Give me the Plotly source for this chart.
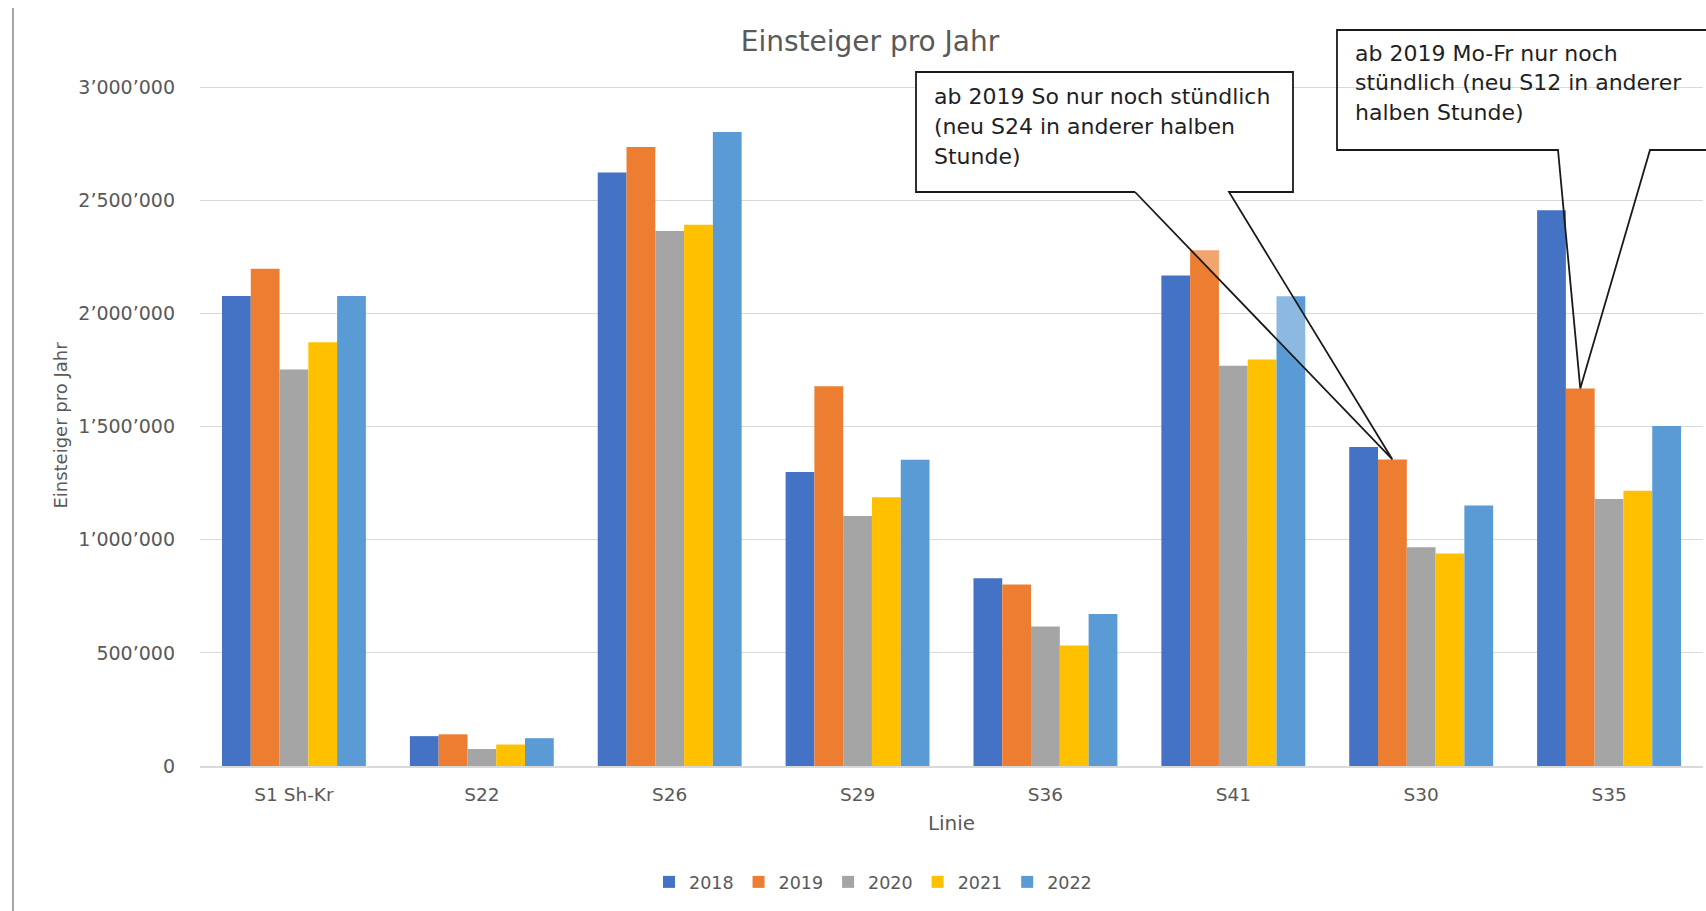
import plotly.graph_objects as go

# ---------------- data ----------------
categories = ["S1 Sh-Kr", "S22", "S26", "S29", "S36", "S41", "S30", "S35"]
years = ["2018", "2019", "2020", "2021", "2022"]
v2018 = [2077000, 132000, 2623000, 1299000, 830000, 2168000, 1410000, 2456000]
v2019 = [2198000, 140000, 2736000, 1678000, 802000, 2280000, 1355000, 1669000]
v2020 = [1753000, 75000, 2365000, 1105000, 617000, 1769000, 967000, 1180000]
v2021 = [1873000, 95000, 2392000, 1188000, 533000, 1797000, 939000, 1217000]
v2022 = [2077000, 123000, 2802000, 1354000, 672000, 2076000, 1151000, 1503000]
colors = ["#4472C4", "#ED7D31", "#A5A5A5", "#FFC000", "#5B9BD5"]

y_tickvals = [0, 500000, 1000000, 1500000, 2000000, 2500000, 3000000]
y_ticktext = ["0", "500\u2019000", "1\u2019000\u2019000", "1\u2019500\u2019000",
              "2\u2019000\u2019000", "2\u2019500\u2019000", "3\u2019000\u2019000"]

title_text = "Einsteiger pro Jahr"
x_title = "Linie"
y_title = "Einsteiger pro Jahr"

callout1_lines = ["ab 2019 So nur noch stündlich", "(neu S24 in anderer halben", "Stunde)"]
callout2_lines = ["ab 2019 Mo-Fr nur noch", "stündlich (neu S12 in anderer", "halben Stunde)"]
callout1_target = ("S30", "2019")
callout2_target = ("S35", "2019")

# ---------------- layout geometry ----------------
W, H = 1706, 911
ML, MR, MT, MB = 200, 3, 85, 145
PW, PH = W - ML - MR, H - MT - MB
BARGAP = 0.234
YMAX = 3010000
FONT = "DejaVu Sans"
GREY = "#595959"


def px_x(px):
    return (px - ML) / PW


def px_y(py):
    return (H - MB - py) / PH


series = [v2018, v2019, v2020, v2021, v2022]
fig = go.Figure()
for yr, vals, col in zip(years, series, colors):
    fig.add_trace(go.Bar(name=yr, x=categories, y=vals, marker=dict(color=col, line=dict(width=0))))


def bar_tip(cat, yr):
    ci = categories.index(cat)
    yi = years.index(yr)
    bw = (1 - BARGAP) / len(years)
    xc = ci + (yi - (len(years) - 1) / 2) * bw
    val = series[yi][ci]
    return (xc + 0.5) / len(categories), val / YMAX


shapes = []
# left border line of the chart area
shapes.append(dict(type="line", xref="paper", yref="paper",
                   x0=px_x(13), x1=px_x(13), y0=px_y(8), y1=px_y(911),
                   line=dict(color="#a6a6a6", width=2)))

# callout 1 (white box, semi-transparent wedge)
tx, ty = bar_tip(*callout1_target)
bl, br, bt, bb = px_x(916), px_x(1293), px_y(72), px_y(192)
wl, wr = px_x(1135), px_x(1229)
shapes.append(dict(type="rect", xref="x domain", yref="y domain", x0=bl, x1=br, y0=bb, y1=bt,
                   fillcolor="white", line=dict(width=0), layer="above"))
shapes.append(dict(type="path", xref="x domain", yref="y domain",
                   path=f"M{wl},{bb} L{tx},{ty} L{wr},{bb} Z",
                   fillcolor="rgba(255,255,255,0.3)", line=dict(width=0), layer="above"))
shapes.append(dict(type="path", xref="x domain", yref="y domain",
                   path=(f"M{wl},{bb} L{bl},{bb} L{bl},{bt} L{br},{bt} L{br},{bb} L{wr},{bb} "
                         f"L{tx},{ty} L{wl},{bb}"),
                   line=dict(color="#1a1a1a", width=1.8), layer="above"))

# callout 2 (no fill, extends past right edge)
tx2, ty2 = bar_tip(*callout2_target)
cl, cr, ct, cb = px_x(1337), px_x(1780), px_y(30), px_y(150)
vl, vr = px_x(1558), px_x(1650)
shapes.append(dict(type="path", xref="x domain", yref="y domain",
                   path=(f"M{cr},{ct} L{cl},{ct} L{cl},{cb} L{vl},{cb} L{tx2},{ty2} "
                         f"L{vr},{cb} L{cr},{cb}"),
                   line=dict(color="#1a1a1a", width=1.8), layer="above"))

annotations = []
for i, line in enumerate(callout1_lines):
    annotations.append(dict(text=line, xref="paper", yref="paper", x=px_x(932), y=px_y(96 + 30 * i),
                            xanchor="left", yanchor="middle", showarrow=False,
                            font=dict(family=FONT, size=22, color="#1f1f1f")))
for i, line in enumerate(callout2_lines):
    annotations.append(dict(text=line, xref="paper", yref="paper", x=px_x(1353), y=px_y(53 + 30 * i),
                            xanchor="left", yanchor="middle", showarrow=False,
                            font=dict(family=FONT, size=22, color="#1f1f1f")))

fig.update_layout(
    width=W, height=H,
    margin=dict(l=ML, r=MR, t=MT, b=MB, autoexpand=False),
    paper_bgcolor="white", plot_bgcolor="white",
    barmode="group", bargap=BARGAP, bargroupgap=0,
    font=dict(family=FONT, color=GREY, size=18),
    title=dict(text=title_text, x=870 / W, y=1 - 41 / H, xref="container", yref="container",
               xanchor="center", yanchor="middle", font=dict(family=FONT, size=28, color=GREY)),
    xaxis=dict(showgrid=False, showline=True, linecolor="#d9d9d9", linewidth=1.5, ticks="",
               tickfont=dict(family=FONT, size=18.5, color=GREY), ticklabelstandoff=11,
               title=dict(text=x_title, font=dict(family=FONT, size=20, color=GREY), standoff=12),
               automargin=False),
    yaxis=dict(range=[0, YMAX], tickvals=y_tickvals, ticktext=y_ticktext,
               showgrid=True, gridcolor="#d9d9d9", gridwidth=1.3, zeroline=False, ticks="",
               tickfont=dict(family=FONT, size=19, color=GREY), ticklabelstandoff=24,
               title=dict(text=y_title, font=dict(family=FONT, size=18, color=GREY), standoff=5),
               automargin=False),
    legend=dict(orientation="h", x=px_x(873), y=px_y(882), xanchor="center", yanchor="middle",
                font=dict(family=FONT, size=17.5, color=GREY), traceorder="normal"),
    shapes=shapes, annotations=annotations,
)

fig.write_html("out.html", config={"displayModeBar": False},
               post_script="document.body.style.margin='0';")
